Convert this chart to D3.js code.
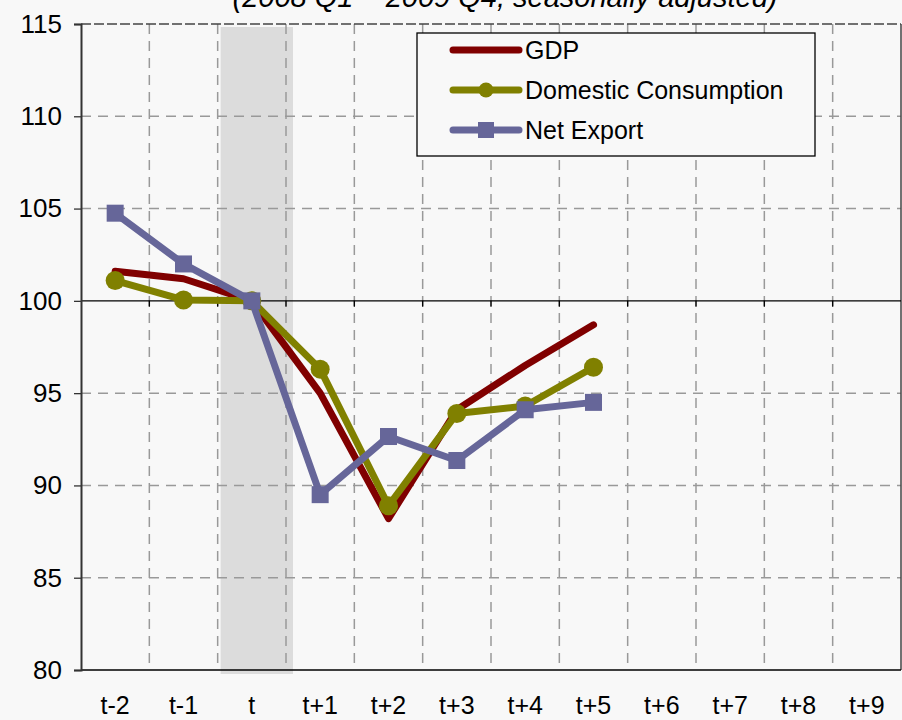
<!DOCTYPE html>
<html>
<head>
<meta charset="utf-8">
<script src="https://cdn.jsdelivr.net/npm/d3@7"></script>
<style>
  body { margin: 0; background: #f8f8f8; }
  text { font-family: "Liberation Sans", Arial, sans-serif; }
</style>
</head>
<body>
<div id="chart"></div>
<script>
var svgWidth = 902;
var svgHeight = 720;
var margin = { top: 24, right: 1, bottom: 50, left: 81 };
var width = svgWidth - margin.left - margin.right;
var height = svgHeight - margin.top - margin.bottom;

// data
var periods = ["t-2", "t-1", "t", "t+1", "t+2", "t+3", "t+4", "t+5", "t+6", "t+7", "t+8", "t+9"];
var gdp = [101.6, 101.2, 100, 95.0, 88.2, 94.1, 96.5, 98.7];
var consumption = [101.1, 100.05, 100, 96.3, 88.9, 93.9, 94.3, 96.4];
var netExport = [104.75, 102.0, 100, 89.5, 92.65, 91.35, 94.1, 94.5];
var yTicks = [80, 85, 90, 95, 100, 105, 110, 115];
var shaded = "t";

var svg = d3.select("#chart")
  .append("svg")
  .attr("width", svgWidth)
  .attr("height", svgHeight);

var chartGroup = svg.append("g")
  .attr("transform", `translate(${margin.left}, ${margin.top})`);

var xBand = d3.scaleBand()
  .domain(periods)
  .range([0, width]);
var xScale = d => xBand(d) + xBand.bandwidth() / 2;

var yScale = d3.scaleLinear()
  .domain([80, 115])
  .range([height, 0]);

// shaded period
chartGroup.append("rect")
  .attr("x", xBand(shaded) + 3)
  .attr("y", 3)
  .attr("width", xBand.bandwidth() + 4)
  .attr("height", height + 1)
  .attr("fill", "#dcdcdc");

// grid lines
chartGroup.append("g")
  .selectAll("line")
  .data(yTicks.filter(d => d !== 100 && d !== 80 && d !== 115))
  .enter()
  .append("line")
  .attr("x1", 0)
  .attr("x2", width)
  .attr("y1", d => yScale(d))
  .attr("y2", d => yScale(d))
  .attr("stroke", "#999")
  .attr("stroke-width", 1.5)
  .attr("stroke-dasharray", "10,7");

chartGroup.append("g")
  .selectAll("line")
  .data(periods.slice(1))
  .enter()
  .append("line")
  .attr("x1", d => xBand(d))
  .attr("x2", d => xBand(d))
  .attr("y1", 0)
  .attr("y2", height)
  .attr("stroke", "#999")
  .attr("stroke-width", 1.5)
  .attr("stroke-dasharray", "10,7");

// top border dashed, right border solid
chartGroup.append("line")
  .attr("x1", 0).attr("x2", width)
  .attr("y1", 0).attr("y2", 0)
  .attr("stroke", "#444")
  .attr("stroke-width", 1.5)
  .attr("stroke-dasharray", "10,3");
chartGroup.append("line")
  .attr("x1", width).attr("x2", width)
  .attr("y1", 0).attr("y2", height)
  .attr("stroke", "#444")
  .attr("stroke-width", 1.5);

// axis through 100 with ticks at category boundaries
chartGroup.append("line")
  .attr("x1", 0).attr("x2", width)
  .attr("y1", yScale(100)).attr("y2", yScale(100))
  .attr("stroke", "#000")
  .attr("stroke-width", 1.3);
chartGroup.append("g")
  .selectAll("line")
  .data(periods.slice(1))
  .enter()
  .append("line")
  .attr("x1", d => xBand(d))
  .attr("x2", d => xBand(d))
  .attr("y1", yScale(100))
  .attr("y2", yScale(100) + 6)
  .attr("stroke", "#000")
  .attr("stroke-width", 1.3);

// bottom axis line + labels
chartGroup.append("line")
  .attr("x1", 0).attr("x2", width)
  .attr("y1", height).attr("y2", height)
  .attr("stroke", "#000")
  .attr("stroke-width", 1.5);

chartGroup.append("g")
  .selectAll("text")
  .data(periods)
  .enter()
  .append("text")
  .attr("x", d => xScale(d))
  .attr("y", height + 44)
  .attr("text-anchor", "middle")
  .style("font-size", "25px")
  .text(d => d);

// left axis
var leftAxis = d3.axisLeft(yScale)
  .tickValues(yTicks)
  .tickSize(7)
  .tickPadding(12);
var yAxisG = chartGroup.append("g").call(leftAxis);
yAxisG.select(".domain").attr("stroke", "#333").attr("stroke-width", 2);
yAxisG.selectAll(".tick line").attr("stroke", "#333").attr("stroke-width", 1.3);
yAxisG.selectAll(".tick text")
  .style("font-size", "26px")
  .style("font-family", "Liberation Sans, Arial, sans-serif")
  .attr("fill", "#000");

// series
var seriesList = [
  { name: "GDP", values: gdp, color: "#800000", marker: "none" },
  { name: "Domestic Consumption", values: consumption, color: "#808000", marker: "circle" },
  { name: "Net Export", values: netExport, color: "#666699", marker: "square" }
];

var line = d3.line()
  .x((d, i) => xScale(periods[i]))
  .y(d => yScale(d));

seriesList.forEach(function(s) {
  chartGroup.append("path")
    .datum(s.values)
    .attr("fill", "none")
    .attr("stroke", s.color)
    .attr("stroke-width", 7)
    .attr("stroke-linejoin", "round")
    .attr("stroke-linecap", "round")
    .attr("d", line);

  if (s.marker === "circle") {
    chartGroup.append("g")
      .selectAll("circle")
      .data(s.values)
      .enter()
      .append("circle")
      .attr("cx", (d, i) => xScale(periods[i]))
      .attr("cy", d => yScale(d))
      .attr("r", 9.5)
      .attr("fill", s.color);
  } else if (s.marker === "square") {
    chartGroup.append("g")
      .selectAll("rect")
      .data(s.values)
      .enter()
      .append("rect")
      .attr("x", (d, i) => xScale(periods[i]) - 8.5)
      .attr("y", d => yScale(d) - 8.5)
      .attr("width", 17)
      .attr("height", 17)
      .attr("fill", s.color);
  }
});

// legend
var legend = svg.append("g").attr("transform", "translate(417, 33)");
legend.append("rect")
  .attr("width", 398)
  .attr("height", 123)
  .attr("fill", "#f8f8f8")
  .attr("stroke", "#000")
  .attr("stroke-width", 1.3);

seriesList.forEach(function(s, i) {
  var ly = 17 + i * 40;
  var row = legend.append("g").attr("transform", `translate(0, ${ly})`);
  row.append("line")
    .attr("x1", 36).attr("x2", 102)
    .attr("y1", 0).attr("y2", 0)
    .attr("stroke", s.color)
    .attr("stroke-width", 7)
    .attr("stroke-linecap", "round");
  if (s.marker === "circle") {
    row.append("circle").attr("cx", 69).attr("cy", 0).attr("r", 7.5).attr("fill", s.color);
  } else if (s.marker === "square") {
    row.append("rect").attr("x", 61).attr("y", -8).attr("width", 16).attr("height", 16).attr("fill", s.color);
  }
  row.append("text")
    .attr("x", 108)
    .attr("y", 9)
    .style("font-size", "25px")
    .text(s.name);
});

// subtitle (cut off at top, as in the original)
svg.append("text")
  .attr("x", 505)
  .attr("y", 7)
  .attr("text-anchor", "middle")
  .style("font-size", "29px")
  .style("font-style", "italic")
  .text("(2008 Q1 \u2013 2009 Q4, seasonally adjusted)");
</script>
</body>
</html>
